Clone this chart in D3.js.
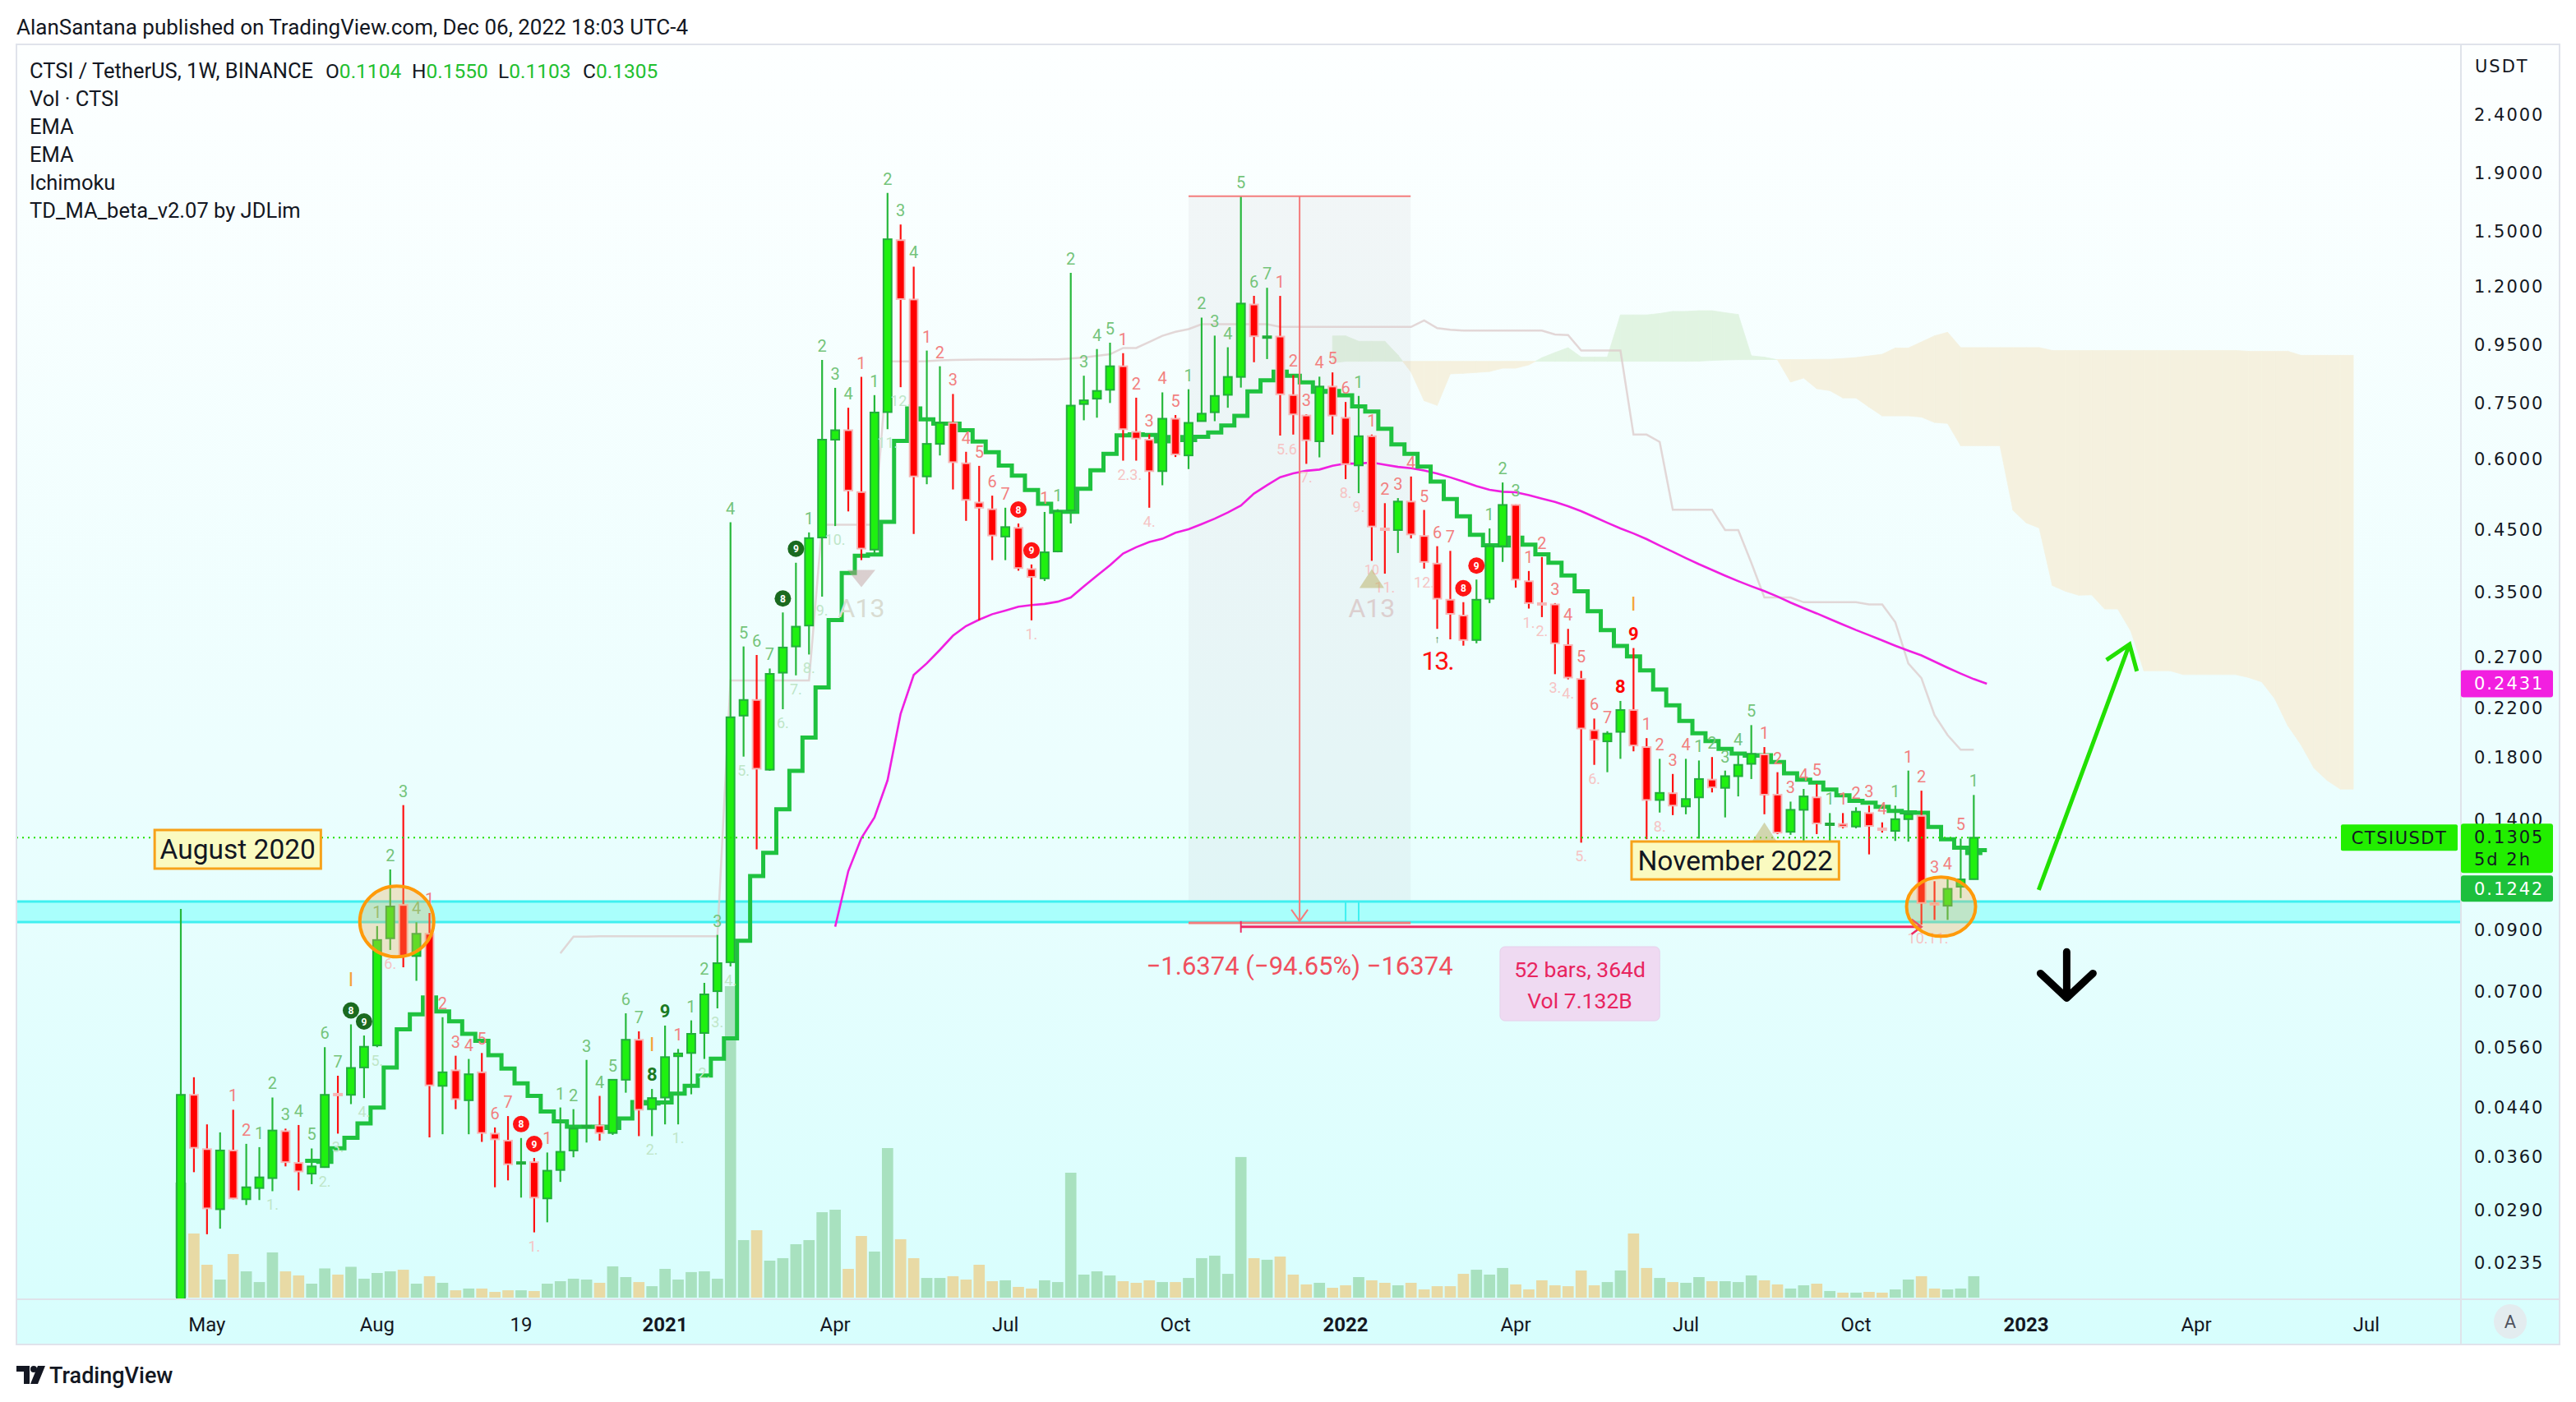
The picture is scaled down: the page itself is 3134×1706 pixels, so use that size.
<!DOCTYPE html>
<html><head><meta charset="utf-8">
<script src="https://cdn.jsdelivr.net/npm/d3@7"></script>
<style>
html,body{margin:0;padding:0;background:#fff;}
svg{display:block;font-family:Roboto,"Liberation Sans",sans-serif;}
</style></head><body>
<svg id="chart" width="3134" height="1706"></svg>
<script>
// ---------------- DATA ----------------
const startDate = "2020-04-20";   // first weekly bar (Monday)
const opens = [0.0165,0.0463,0.0372,0.0292,0.0370,0.0304,0.0318,0.0331,0.0400,0.0352,
0.0337,0.0346,0.0465,0.0463,0.0517,0.0565,0.0870,0.0995,0.0810,0.0886,
0.0480,0.0511,0.0453,0.0507,0.0396,0.0385,0.0351,0.0353,0.0305,0.0342,
0.0370,0.0407,0.0409,0.0397,0.0492,0.0578,0.0437,0.0458,0.0541,0.0548,
0.0594,0.0703,0.0790,0.2134,0.2273,0.1716,0.2537,0.282,0.3068,0.4374,
0.6488,0.674,0.5253,0.4166,0.7251,1.4496,1.1414,0.5595,0.6379,0.6941,
0.5899,0.5036,0.4902,0.4391,0.4548,0.3852,0.371,0.4135,0.4881,0.749,
0.7653,0.7932,0.8722,0.6695,0.6488,0.5715,0.706,0.609,0.6992,0.7246,
0.7773,0.8355,1.1185,0.979,0.983,0.7766,0.7151,0.6446,0.8037,0.7085,
0.585,0.6579,0.4537,0.4508,0.5056,0.4401,0.3938,0.3404,0.3194,0.2894,
0.3418,0.4224,0.4988,0.3667,0.3358,0.334,0.2836,0.2474,0.2012,0.1924,
0.1999,0.2183,0.188,0.1519,0.1561,0.148,0.1535,0.1649,0.1595,0.1672,
0.1757,0.1825,0.1552,0.1336,0.146,0.1535,0.1376,0.1379,0.1365,0.1441,
0.1355,0.1341,0.1406,0.1425,0.1003,0.0992,0.1071,0.1104];
const highs = [0.0979,0.0497,0.0411,0.0398,0.0436,0.0380,0.0375,0.0458,0.0404,0.0410,
0.0373,0.0561,0.0500,0.0615,0.0588,0.0914,0.1148,0.1488,0.0928,0.0963,
0.0633,0.0542,0.0535,0.0548,0.0406,0.0425,0.0389,0.0359,0.0367,0.0440,
0.0437,0.0533,0.0461,0.0492,0.0643,0.0598,0.0474,0.0612,0.0557,0.0625,
0.0727,0.0882,0.465,0.282,0.2725,0.258,0.3234,0.3951,0.4465,0.8944,
0.7995,0.7379,0.8358,0.7764,1.753,1.544,1.3033,0.929,0.8722,0.780,
0.6179,0.5838,0.5178,0.4932,0.4628,0.3924,0.4849,0.4902,1.271,0.8396,
0.9349,0.9591,0.9194,0.7684,0.6628,0.785,0.7165,0.795,1.061,0.9868,
0.9415,1.731,1.1584,1.1965,1.158,0.8415,0.7184,0.8363,0.8508,0.7552,
0.7739,0.6623,0.5023,0.5127,0.5593,0.4888,0.4224,0.4145,0.3371,0.3692,
0.4537,0.546,0.4999,0.3822,0.4044,0.3358,0.3027,0.2556,0.2109,0.2004,
0.2264,0.2802,0.1949,0.1793,0.1687,0.1793,0.1781,0.1806,0.171,0.183,
0.2054,0.188,0.1699,0.1509,0.1588,0.162,0.1441,0.1441,0.1475,0.1485,
0.1388,0.1485,0.171,0.1577,0.1095,0.111,0.130,0.1550];
const lows = [0.0150,0.0339,0.0264,0.0270,0.0304,0.0297,0.0303,0.0314,0.0347,0.0315,
0.0323,0.0345,0.0396,0.0446,0.0457,0.0561,0.0830,0.0774,0.0733,0.0390,
0.0395,0.0437,0.0395,0.0383,0.0319,0.0328,0.0306,0.0266,0.0277,0.0326,
0.0360,0.0382,0.0385,0.0394,0.0467,0.0392,0.0392,0.0411,0.0411,0.0464,
0.0535,0.0656,0.0777,0.1809,0.1245,0.1709,0.219,0.251,0.273,0.3446,
0.4581,0.4859,0.3993,0.4078,0.6768,0.8016,0.4438,0.5422,0.6088,0.5309,
0.4678,0.3133,0.3993,0.3993,0.3827,0.3133,0.3671,0.4121,0.4628,0.7015,
0.7089,0.7522,0.5962,0.5962,0.4932,0.5399,0.605,0.5763,0.699,0.699,
0.7379,0.8003,0.8865,0.8978,0.6596,0.6623,0.5886,0.6042,0.6623,0.5534,
0.523,0.3982,0.3781,0.411,0.4358,0.3859,0.3027,0.2902,0.2829,0.2856,
0.3358,0.3964,0.3574,0.3285,0.3174,0.2522,0.247,0.1279,0.175,0.1699,
0.1793,0.1848,0.1297,0.1444,0.1429,0.1434,0.13,0.1566,0.1416,0.1541,
0.1653,0.1434,0.1324,0.132,0.1279,0.1324,0.1288,0.1355,0.1355,0.122,
0.1332,0.1288,0.1284,0.0919,0.0937,0.0937,0.1023,0.1103];
const closes = [0.0463,0.0374,0.0293,0.0370,0.0305,0.0319,0.0332,0.0401,0.0353,0.0340,
0.0347,0.0463,0.0462,0.0516,0.0562,0.0864,0.0989,0.0811,0.0886,0.0481,
0.0507,0.0455,0.0503,0.0397,0.0387,0.0350,0.0353,0.0306,0.0341,0.0368,
0.0404,0.0409,0.0397,0.0492,0.0578,0.0436,0.0457,0.0539,0.0547,0.0592,
0.0694,0.0787,0.212,0.2273,0.1723,0.2525,0.2808,0.3054,0.4363,0.6488,
0.674,0.5286,0.4183,0.7239,1.455,1.1431,0.5595,0.6379,0.6941,0.5925,
0.509,0.4932,0.441,0.4562,0.3868,0.3733,0.4121,0.4859,0.7443,0.7602,
0.7897,0.8722,0.6768,0.6516,0.5715,0.706,0.6114,0.6943,0.7205,0.7739,
0.8355,1.1228,0.9842,0.984,0.779,0.7184,0.6473,0.8037,0.7151,0.588,
0.6579,0.4573,0.4522,0.5056,0.4429,0.3964,0.3418,0.3216,0.2894,0.3404,
0.4224,0.4988,0.3692,0.3358,0.3346,0.2856,0.2488,0.2026,0.1937,0.1985,
0.2183,0.1892,0.1519,0.1563,0.1485,0.1525,0.1653,0.1598,0.1672,0.175,
0.183,0.1552,0.1332,0.146,0.1541,0.1382,0.1382,0.1365,0.1449,0.1368,
0.1346,0.1406,0.1434,0.1003,0.0996,0.1062,0.1103,0.1305];
// weekly volume, millions of CTSI
const volumes = [784,437,224,123,297,179,106,308,179,151,
95,199,157,210,129,168,179,190,95,146,
101,50,62,62,39,50,50,45,95,112,
129,123,101,213,140,106,78,196,123,174,
179,129,2122,392,459,252,269,364,392,582,
599,196,420,314,1019,398,269,134,134,146,
123,224,112,118,73,62,118,106,851,157,
179,151,112,101,118,106,106,134,269,286,
162,958,269,258,280,157,90,101,67,84,
140,118,101,84,101,56,78,78,162,190,
157,202,90,56,118,84,78,185,84,106,
185,437,202,134,106,101,140,112,112,106,
151,118,90,62,84,95,45,34,34,39,
34,56,123,146,62,56,62,146];

const priceTicks = [2.4,1.9,1.5,1.2,0.95,0.75,0.6,0.45,0.35,0.27,0.22,0.18,0.14,0.09,0.07,0.056,0.044,0.036,0.029,0.0235];
const priceTickLabels = ["2.4000","1.9000","1.5000","1.2000","0.9500","0.7500","0.6000","0.4500","0.3500","0.2700","0.2200","0.1800","0.1400","0.0900","0.0700","0.0560","0.0440","0.0360","0.0290","0.0235"];
const timeTickDates = ["2020-05-04","2020-08-03","2020-10-19","2021-01-04","2021-04-05","2021-07-05","2021-10-04","2022-01-03","2022-04-04","2022-07-04","2022-10-03","2023-01-02","2023-04-03","2023-07-03"];
const timeTickLabels = ["May","Aug","19","2021","Apr","Jul","Oct","2022","Apr","Jul","Oct","2023","Apr","Jul"];
const timeTickBold = [false,false,false,true,false,false,false,true,false,false,false,true,false,false];

// TD countdown labels (bar index, text, side s=sell/green b=buy/red)
const cdBars  = [7,11,12,14,15,16,27,36,38,40,41,42,43,46,47,48,49,50,54,55,65,72.5,74,84.5,86,89,90,91,92,95,103,104,105,106,107,108,113,133.5];
const cdTexts = ["1.","2.","3.","4.","5.","6.","1.","2.","1.","2.","3.","4.","5.","6.","7.","8.","9.","10.","11.","12.","1.","2.3.","4.","5.6","7.","8.","9.","10","11.","12.","1.","2.","3.","4.","5.","6.","8.","10.11."];
const cdSides = "sssssbbsssssssssssssbbbbbbbbbbbbbbbbbb";
const a13Bars = [52,91,121];
const a13Dirs = ["down","up","up"];
const a13Shown = [true,true,false];
const iMarkBars = [13,36,111];
const td13Bar = 96;

// Annotations (bar index / price coordinates)
const bandPrices = [0.1009,0.0929];
const noteTexts = ["August 2020","November 2022"];
const noteBars = [[-2.0,10.7],[110.85,126.7]];
const notePrices = [[0.1346,0.1152],[0.1285,0.1103]];
const ellipseBars = [16.5,134.5];
const ellipsePrices = [0.0931,0.0988];
const measureBars = [77.0,93.97];
const measurePrices = [1.7300,0.0926];
const measureText = "\u22121.6374 (\u221294.65%) \u221216374";
const rangeBars = [81,133];
const rangePrice = 0.0911;
const infoLines = ["52 bars, 364d","Vol 7.132B"];
const infoBars = [100.8,113.0];
const infoPrices = [0.0841,0.0624];
const upArrow = {b0:141.96,p0:0.1057,b1:148.9,p1:0.2845};
const downArrow = {b:144.1,p0:0.0824,p1:0.0684};
const legendValues = [["O","0.1104"],["H","0.1550"],["L","0.1103"],["C","0.1305"]];
const axisLabels = [
  {text:"0.2431", value:0.2431, fill:"#f21fe0", color:"#ffffff"},
  {text:"0.1305", sub:"5d 2h", value:0.1305, fill:"#22ee00", color:"#131722"},
  {text:"0.1242", value:0.1242, fill:"#1dbf3d", color:"#ffffff"}
];
const lastClose = 0.1305;

// ---------------- CHART ----------------
const svg = d3.select("#chart");
const W = 3134, H = 1706;
const n = closes.length;
const parse = d3.utcParse("%Y-%m-%d");
const t0 = parse(startDate);
const dates = d3.range(n).map(i => d3.utcWeek.offset(t0, i));
const x = d3.scaleUtc().domain([t0, parse("2023-07-03")]).range([220, 2879]);
const xb = b => x(new Date(t0.getTime() + b * 7 * 864e5));
const s = xb(1) - xb(0);
const y = d3.scaleLog().domain([2.4, 0.0235]).range([140, 1537]);
const paneBottom = 1579;
const yv = d3.scaleLinear().domain([0, d3.max(volumes)]).range([paneBottom, paneBottom - 379]);

const defs = svg.append("defs");
const grad = defs.append("linearGradient").attr("id","bg").attr("x1",0).attr("y1",0).attr("x2",0).attr("y2",1);
grad.append("stop").attr("offset","0%").attr("stop-color","#fdffff");
grad.append("stop").attr("offset","55%").attr("stop-color","#ecfefe");
grad.append("stop").attr("offset","100%").attr("stop-color","#d7fefd");
defs.append("clipPath").attr("id","pane").append("rect").attr("x",21).attr("y",55).attr("width",2972).attr("height",1525);

svg.append("rect").attr("width",W).attr("height",H).attr("fill","#ffffff");
svg.append("text").attr("x",20).attr("y",42).attr("font-size",26).attr("fill","#131722")
  .text("AlanSantana published on TradingView.com, Dec 06, 2022 18:03 UTC-4");
svg.append("rect").attr("x",20).attr("y",54).attr("width",3094).attr("height",1582)
  .attr("fill","url(#bg)").attr("stroke","#e0e3eb").attr("stroke-width",2);
svg.append("line").attr("x1",2994).attr("x2",2994).attr("y1",54).attr("y2",1636).attr("stroke","#dfe3ea").attr("stroke-width",2);
svg.append("line").attr("x1",20).attr("x2",3114).attr("y1",1581).attr("y2",1581).attr("stroke","#dfe3ea").attr("stroke-width",2);

const pane = svg.append("g").attr("clip-path","url(#pane)");

// ----- indicators -----
function emaCalc(src, len){
  const out = new Array(src.length).fill(null);
  const a = 2/(len+1); let sum = 0;
  for (let i=0;i<src.length;i++){
    if (i < len-1) { sum += src[i]; }
    else if (i === len-1) { sum += src[i]; out[i] = sum/len; }
    else out[i] = a*src[i] + (1-a)*out[i-1];
  }
  return out;
}
function midCalc(len){
  return d3.range(n).map(i => i < len-1 ? null :
    (d3.max(highs.slice(i-len+1,i+1)) + d3.min(lows.slice(i-len+1,i+1)))/2);
}
const ema10 = emaCalc(closes,10), ema50 = emaCalc(closes,50);
const tenkan = midCalc(10), kijun = midCalc(30), spanB = midCalc(60);
const disp = 29;

// cloud
const cloudPts = [];
for (let i=0;i<n;i++){
  if (spanB[i]==null || kijun[i]==null) continue;
  const a = (tenkan[i]+kijun[i])/2;
  cloudPts.push({px: xb(i+disp), ya: y(a), yb: y(spanB[i])});
}
const cloudG = pane.append("g");
const GREEN_CLOUD = "#e1f4e2", TAN_CLOUD = "#f5f1df";
for (let k=0;k<cloudPts.length-1;k++){
  const p0 = cloudPts[k], p1 = cloudPts[k+1];
  const d0 = p0.ya - p0.yb, d1 = p1.ya - p1.yb;
  const col = v => v <= 0 ? GREEN_CLOUD : TAN_CLOUD;
  if ((d0 <= 0) === (d1 <= 0)) {
    cloudG.append("polygon").attr("points",[[p0.px,p0.ya],[p1.px,p1.ya],[p1.px,p1.yb],[p0.px,p0.yb]].join(" "))
      .attr("fill",col(d0)).attr("stroke",col(d0)).attr("stroke-width",0.8);
  } else {
    const t = d0/(d0-d1);
    const cx = p0.px + t*(p1.px-p0.px), cy = p0.ya + t*(p1.ya-p0.ya);
    cloudG.append("polygon").attr("points",[[p0.px,p0.ya],[cx,cy],[p0.px,p0.yb]].join(" ")).attr("fill",col(d0)).attr("stroke",col(d0)).attr("stroke-width",0.8);
    cloudG.append("polygon").attr("points",[[cx,cy],[p1.px,p1.ya],[p1.px,p1.yb]].join(" ")).attr("fill",col(d1)).attr("stroke",col(d1)).attr("stroke-width",0.8);
  }
}

// measurement shaded rect
const mx0 = xb(measureBars[0]), mx1 = xb(measureBars[1]);
const my0 = y(measurePrices[0]), my1 = y(measurePrices[1]);
pane.append("rect").attr("x",mx0).attr("y",my0).attr("width",mx1-mx0).attr("height",my1-my0)
  .attr("fill","rgba(150,140,150,0.08)");

// cyan band
const by0 = y(bandPrices[0]), by1 = y(bandPrices[1]);
pane.append("rect").attr("x",20).attr("y",by0).attr("width",2974).attr("height",by1-by0).attr("fill","#a9fffc");
pane.append("line").attr("x1",20).attr("x2",2994).attr("y1",by0).attr("y2",by0).attr("stroke","#3ff0f0").attr("stroke-width",3);
pane.append("line").attr("x1",20).attr("x2",2994).attr("y1",by1).attr("y2",by1).attr("stroke","#3ff0f0").attr("stroke-width",3);
[89,90].forEach(b => pane.append("line").attr("x1",xb(b)).attr("x2",xb(b)).attr("y1",by0).attr("y2",by1).attr("stroke","#3ff0f0").attr("stroke-width",2));

// volume
const vw = s*0.86;
pane.append("g").selectAll("rect").data(d3.range(n)).join("rect")
  .attr("x", i => x(dates[i]) - vw/2).attr("width", vw)
  .attr("y", i => yv(volumes[i])).attr("height", i => paneBottom - yv(volumes[i]))
  .attr("fill", i => closes[i] >= opens[i] ? "#a8e1bf" : "#e8daa5");

// kijun
pane.append("path").datum(d3.range(n).filter(i => kijun[i]!=null))
  .attr("d", d3.line().x(i => x(dates[i])).y(i => y(kijun[i])))
  .attr("fill","none").attr("stroke","#dccaca").attr("stroke-width",2.5).attr("opacity",0.75);

// EMA 50 (magenta) plotted with offset 1
pane.append("path").datum(d3.range(n).filter(i => ema50[i]!=null))
  .attr("d", d3.line().x(i => xb(i+1)).y(i => y(ema50[i])))
  .attr("fill","none").attr("stroke","#f01fe0").attr("stroke-width",2.6);

// EMA 10 step (green) offset 1
const stepPts = d3.range(n).filter(i => ema10[i]!=null).map(i => [xb(i+1)-s/2, y(ema10[i])]);
stepPts.push([xb(n-1)+s, y(ema10[n-1])]);
pane.append("path").datum(stepPts)
  .attr("d", d3.line().curve(d3.curveStepAfter))
  .attr("fill","none").attr("stroke","#1fc23f").attr("stroke-width",5);

// candles
const bw = s*0.62;
const cg = pane.append("g");
cg.selectAll("line").data(d3.range(n)).join("line")
  .attr("x1", i => x(dates[i])).attr("x2", i => x(dates[i]))
  .attr("y1", i => y(highs[i])).attr("y2", i => y(lows[i]))
  .attr("stroke", i => closes[i] >= opens[i] ? "#27b83c" : "#ff1111").attr("stroke-width",2.2);
cg.selectAll("rect").data(d3.range(n)).join("rect")
  .attr("x", i => x(dates[i]) - bw/2).attr("width", bw)
  .attr("y", i => y(Math.max(opens[i],closes[i])))
  .attr("height", i => Math.max(2, Math.abs(y(opens[i]) - y(closes[i]))))
  .attr("fill", i => closes[i] >= opens[i] ? "#1ff010" : "#ff0000")
  .attr("stroke", i => closes[i] >= opens[i] ? "#22ad3b" : "#f6b6b6").attr("stroke-width",2);

// current price dotted line
pane.append("line").attr("x1",20).attr("x2",2848).attr("y1",y(lastClose)).attr("y2",y(lastClose))
  .attr("stroke","#22e000").attr("stroke-width",2).attr("stroke-dasharray","2 5");

// ----- TD setup labels (computed from closes) -----
const td = [];
let buy = 0, sell = 0;
for (let i=4;i<n;i++){
  if (closes[i] > closes[i-4]) { sell = sell%9+1; buy = 0; td.push({i, c:sell, side:"s"}); }
  else if (closes[i] < closes[i-4]) { buy = buy%9+1; sell = 0; td.push({i, c:buy, side:"b"}); }
  else { buy = 0; sell = 0; }
}
const tdByBar = {}; td.forEach(d => tdByBar[d.i] = d);
function perfected(d){
  const j8 = d.c === 8 ? d.i : d.i-1;
  const b9 = tdByBar[j8+1];
  const hasNine = b9 && b9.c === 9 && b9.side === d.side;
  if (d.side === "s"){
    const ref = Math.max(highs[j8-2], highs[j8-1]);
    return highs[j8] >= ref || (hasNine && highs[j8+1] >= ref);
  } else {
    const ref = Math.min(lows[j8-2], lows[j8-1]);
    return lows[j8] <= ref || (hasNine && lows[j8+1] <= ref);
  }
}
const tdG = pane.append("g");
td.forEach(d => {
  const cx = x(dates[d.i]), cy = y(highs[d.i]) - 17;
  if (d.c >= 8){
    if (perfected(d)){
      tdG.append("circle").attr("cx",cx).attr("cy",cy).attr("r",10).attr("fill", d.side==="s" ? "#1a6a1f" : "#ff1414");
      tdG.append("text").attr("x",cx).attr("y",cy+4.5).attr("text-anchor","middle").attr("font-size",12).attr("font-weight","bold").attr("fill","#fff").text(d.c);
    } else {
      tdG.append("text").attr("x",cx).attr("y",cy+7).attr("text-anchor","middle").attr("font-size",22).attr("font-weight","bold")
        .attr("fill", d.side==="s" ? "#1b7a22" : "#ff0000").text(d.c);
    }
  } else {
    tdG.append("text").attr("x",cx).attr("y",cy+7).attr("text-anchor","middle").attr("font-size",20)
      .attr("fill", d.side==="s" ? "#74c47a" : "#f27f7f").text(d.c);
  }
});
// countdown labels (below the bar low)
cdBars.forEach((b,k) => {
  const lo = Math.min(lows[Math.floor(b)], lows[Math.ceil(b)]);
  const inTri = a13Bars.includes(b);
  tdG.append("text").attr("x",xb(b)).attr("y",y(lo) + (inTri ? 17 : 23)).attr("text-anchor","middle")
    .attr("font-size", inTri ? 16 : 18)
    .attr("fill", cdSides[k]==="s" ? "#bfe6c8" : "#f6c4c4").text(cdTexts[k]);
});
tdG.append("text").attr("x",x(dates[td13Bar])).attr("y",y(lows[td13Bar])+50).attr("text-anchor","middle")
  .attr("font-size",32).attr("fill","#ff1010").attr("letter-spacing",-2).text("13.");
tdG.append("text").attr("x",x(dates[td13Bar])).attr("y",y(lows[td13Bar])+17).attr("text-anchor","middle")
  .attr("font-size",13).attr("fill","#1a7a22").text("\u2191");
a13Bars.forEach((b,k) => {
  const cx = x(dates[b]), ly = y(lows[b]);
  const down = a13Dirs[k] === "down";
  const ty = ly + 22;
  const pts = down ? [[cx-17,ty-10],[cx+17,ty-10],[cx,ty+11]] : [[cx,ty-12],[cx+15,ty+11],[cx-15,ty+11]];
  tdG.append("polygon").attr("points",pts.join(" ")).attr("fill", down ? "rgba(190,150,150,0.45)" : "rgba(190,180,110,0.55)");
  if (a13Shown[k]) tdG.append("text").attr("x",cx).attr("y",ly+69).attr("text-anchor","middle").attr("font-size",32)
    .attr("fill", down ? "#d9dcd2" : "#dccfcf").text("A13");
});
iMarkBars.forEach(b => {
  tdG.append("text").attr("x",x(dates[b])).attr("y",y(highs[b])-46).attr("text-anchor","middle")
    .attr("font-size",24).attr("fill","#f5a33a").text("I");
});

// ----- measurement tool -----
const mg = svg.append("g");
mg.append("line").attr("x1",mx0).attr("x2",mx1).attr("y1",my0).attr("y2",my0).attr("stroke","#f47c7c").attr("stroke-width",2);
mg.append("line").attr("x1",mx0).attr("x2",mx1).attr("y1",my1).attr("y2",my1).attr("stroke","#f47c7c").attr("stroke-width",3);
const mxc = (mx0+mx1)/2;
mg.append("line").attr("x1",mxc).attr("x2",mxc).attr("y1",my0).attr("y2",my1-2).attr("stroke","#f47c7c").attr("stroke-width",2);
mg.append("path").attr("d",`M${mxc-10},${my1-16}L${mxc},${my1-2}L${mxc+10},${my1-16}`).attr("fill","none").attr("stroke","#f47c7c").attr("stroke-width",2);
mg.append("text").attr("x",mxc).attr("y",y(0.0779)+11).attr("text-anchor","middle").attr("font-size",31).attr("fill","#f0505e").text(measureText);
const rx0 = xb(rangeBars[0]), rx1 = xb(rangeBars[1]), ry = y(rangePrice);
mg.append("line").attr("x1",rx0).attr("x2",rx1).attr("y1",ry).attr("y2",ry).attr("stroke","#ef2a63").attr("stroke-width",3);
mg.append("line").attr("x1",rx0).attr("x2",rx0).attr("y1",ry-7).attr("y2",ry+7).attr("stroke","#ef2a63").attr("stroke-width",2);
mg.append("path").attr("d",`M${rx1-12},${ry-9}L${rx1},${ry}L${rx1-12},${ry+9}`).attr("fill","none").attr("stroke","#ef2a63").attr("stroke-width",2.5);
const ix0 = xb(infoBars[0]), ix1 = xb(infoBars[1]), iy0 = y(infoPrices[0]), iy1 = y(infoPrices[1]);
mg.append("rect").attr("x",ix0).attr("y",iy0).attr("width",ix1-ix0).attr("height",iy1-iy0).attr("rx",6)
  .attr("fill","#efdaf2").attr("stroke","#e6d0ea");
infoLines.forEach((t,k) => mg.append("text").attr("x",(ix0+ix1)/2).attr("y",iy0+37+k*38).attr("text-anchor","middle")
  .attr("font-size",26.5).attr("fill","#e8245f").text(t));

// ----- ellipses -----
const eg = svg.append("g");
ellipseBars.forEach((b,k) => {
  eg.append("ellipse").attr("cx",xb(b)).attr("cy",y(ellipsePrices[k])).attr("rx",k===0?45:42).attr("ry",k===0?43:36)
    .attr("fill","rgba(240,175,90,0.32)").attr("stroke","#ff9a0a").attr("stroke-width",4);
});

// ----- note boxes -----
noteTexts.forEach((t,k) => {
  const x0 = xb(noteBars[k][0]), x1 = xb(noteBars[k][1]);
  const y0 = y(notePrices[k][0]), y1 = y(notePrices[k][1]);
  svg.append("rect").attr("x",x0).attr("y",y0).attr("width",x1-x0).attr("height",y1-y0)
    .attr("fill","#fafac0").attr("stroke","#f7a21a").attr("stroke-width",3);
  svg.append("text").attr("x",(x0+x1)/2).attr("y",(y0+y1)/2+12).attr("text-anchor","middle").attr("font-size",33.5)
    .attr("fill","#131722").text(t);
});

// ----- arrows -----
const ax0 = xb(upArrow.b0), ay0 = y(upArrow.p0), ax1 = xb(upArrow.b1), ay1 = y(upArrow.p1);
const ang = Math.atan2(ay1-ay0, ax1-ax0);
const wing = (da) => [ax1 - 34*Math.cos(ang+da), ay1 - 34*Math.sin(ang+da)];
svg.append("path").attr("d",`M${ax0},${ay0}L${ax1},${ay1}M${wing(0.62)}L${ax1},${ay1}L${wing(-0.62)}`)
  .attr("fill","none").attr("stroke","#22e000").attr("stroke-width",5).attr("stroke-linecap","butt");
const dx = xb(downArrow.b), dy0 = y(downArrow.p0), dy1 = y(downArrow.p1);
svg.append("path").attr("d",`M${dx},${dy0}L${dx},${dy1}M${dx-32},${dy1-30}L${dx},${dy1}L${dx+32},${dy1-30}`)
  .attr("fill","none").attr("stroke","#000").attr("stroke-width",9).attr("stroke-linecap","round").attr("stroke-linejoin","round");

// ----- legend -----
const lg = svg.append("g").attr("font-size",25.5).attr("fill","#131722");
lg.append("text").attr("x",36).attr("y",95).text("CTSI / TetherUS, 1W, BINANCE");
const legendX = [396,501,606,709];
legendValues.forEach(([k,v],j) => {
  const t = lg.append("text").attr("x",legendX[j]).attr("y",95).attr("font-size",24.5);
  t.append("tspan").text(k);
  t.append("tspan").attr("fill","#22c02f").text(v);
});
["Vol \u00b7 CTSI","EMA","EMA","Ichimoku","TD_MA_beta_v2.07 by JDLim"].forEach((t,k) =>
  lg.append("text").attr("x",36).attr("y",129+k*34).text(t));

// ----- price axis -----
const pa = svg.append("g").attr("font-family","'DejaVu Sans',sans-serif").attr("font-size",21).attr("fill","#131722");
pa.append("text").attr("x",3011).attr("y",88).attr("letter-spacing",2).text("USDT");
priceTicks.forEach((p,k) => pa.append("text").attr("x",3010).attr("y",y(p)+7).attr("letter-spacing",2).text(priceTickLabels[k]));
const lbl0 = axisLabels[0];
pa.append("rect").attr("x",2994).attr("y",y(lbl0.value)-16).attr("width",112).attr("height",33).attr("rx",3).attr("fill",lbl0.fill);
pa.append("text").attr("x",3010).attr("y",y(lbl0.value)+8).attr("fill",lbl0.color).attr("letter-spacing",2).text(lbl0.text);
const lbl1 = axisLabels[1], l1y = y(lbl1.value);
pa.append("rect").attr("x",2994).attr("y",l1y-17).attr("width",112).attr("height",60).attr("rx",3).attr("fill",lbl1.fill);
pa.append("text").attr("x",3010).attr("y",l1y+7).attr("fill",lbl1.color).attr("letter-spacing",2).text(lbl1.text);
pa.append("text").attr("x",3010).attr("y",l1y+34).attr("fill",lbl1.color).attr("letter-spacing",2).text(lbl1.sub);
const lbl2 = axisLabels[2];
pa.append("rect").attr("x",2994).attr("y",l1y+46).attr("width",112).attr("height",32).attr("rx",3).attr("fill",lbl2.fill);
pa.append("text").attr("x",3010).attr("y",l1y+70).attr("fill",lbl2.color).attr("letter-spacing",2).text(lbl2.text);
svg.append("rect").attr("x",2848).attr("y",l1y-16).attr("width",142).attr("height",32).attr("rx",2).attr("fill","#22ee00");
svg.append("text").attr("x",2919).attr("y",l1y+8).attr("text-anchor","middle").attr("font-family","'DejaVu Sans',sans-serif")
  .attr("font-size",21).attr("letter-spacing",1.5).attr("fill","#131722").text("CTSIUSDT");

// ----- time axis -----
const ta = svg.append("g").attr("font-size",24).attr("fill","#131722");
timeTickDates.forEach((d,k) => ta.append("text").attr("x",x(parse(d))).attr("y",1620).attr("text-anchor","middle")
  .attr("font-weight", timeTickBold[k] ? "bold" : "normal").text(timeTickLabels[k]));
svg.append("ellipse").attr("cx",3054).attr("cy",1608).attr("rx",20).attr("ry",21).attr("fill","#e3ecef");
svg.append("text").attr("x",3054).attr("y",1616).attr("text-anchor","middle").attr("font-size",22).attr("fill","#50535e").text("A");

// ----- footer logo -----
const fg = svg.append("g").attr("fill","#131722");
fg.append("path").attr("d","M20,1662H36V1684H29V1669H20Z");
fg.append("circle").attr("cx",41).attr("cy",1666).attr("r",4);
fg.append("path").attr("d","M46,1662H55L46,1684H37Z");
fg.append("text").attr("x",60).attr("y",1683).attr("font-size",27).attr("font-weight",500).text("TradingView");
</script>
</body></html>
